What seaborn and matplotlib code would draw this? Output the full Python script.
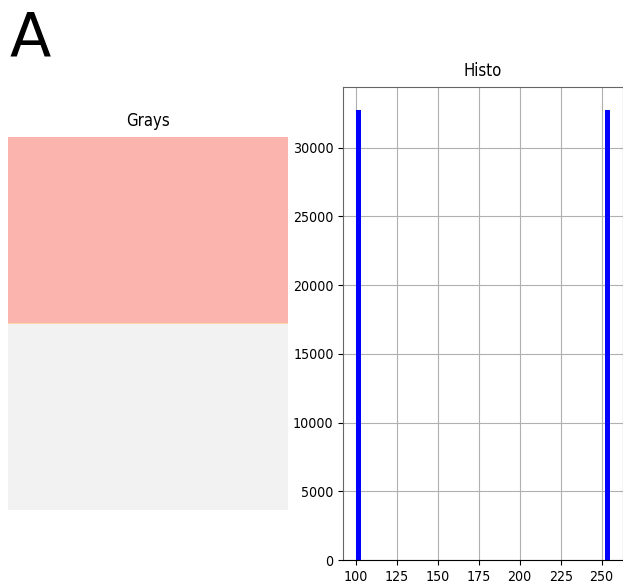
import numpy as np
import matplotlib
matplotlib.use("Agg")
import matplotlib.pyplot as plt
import seaborn as sns

# Pixel intensity levels of the test image and how many pixels hold each
levels = [100, 255]
counts = [32768, 32768]
img_shape = (256, 256)

panel_label = "A"
image_title = "Grays"
hist_title = "Histo"
n_bins = 50
xticks = [100, 125, 150, 175, 200, 225, 250]
yticks = [0, 5000, 10000, 15000, 20000, 25000, 30000]

text_font = dict(family="DejaVu Sans", stretch="condensed")

fig = plt.figure(figsize=(6.23, 5.87), dpi=100)

# Left panel: the image itself (top half dark level, bottom half bright level)
img = np.repeat(levels, counts).reshape(img_shape)
ax_img = fig.add_axes([8 / 623, 77 / 587, 280 / 623, 373 / 587])
ax_img.imshow(img, cmap="Pastel1", vmin=min(levels), vmax=max(levels),
              aspect="auto", interpolation="bilinear",
              interpolation_stage="data")
ax_img.set_axis_off()
ax_img.set_title(image_title, fontsize=12, pad=7.8, **text_font)

# Right panel: histogram of the pixel values
ax_h = fig.add_axes([343.3 / 623, 27 / 587, 279.2 / 623, 473 / 587])
sns.histplot(x=levels, weights=counts, bins=n_bins,
             binrange=(min(levels), max(levels)), color="blue", alpha=1,
             linewidth=0, ax=ax_h)
ax_h.set_axisbelow(True)
ax_h.grid(True, color="#b0b0b0", linewidth=0.8)
ax_h.set_xlabel("")
ax_h.set_ylabel("")
ax_h.set_title(hist_title, fontsize=12, pad=7.8, **text_font)
ax_h.set_xticks(xticks)
ax_h.set_yticks(yticks)
for lab in ax_h.get_xticklabels() + ax_h.get_yticklabels():
    lab.set_family(text_font["family"])
    lab.set_stretch(text_font["stretch"])
    lab.set_fontsize(10.2)
for side in ("left", "right", "top"):
    ax_h.spines[side].set_color("#666666")

fig.text(9.5 / 623, 1 - 55 / 587, panel_label, fontsize=43.5,
         family="DejaVu Sans", va="baseline", ha="left")

fig.savefig("out.png", dpi=100)
